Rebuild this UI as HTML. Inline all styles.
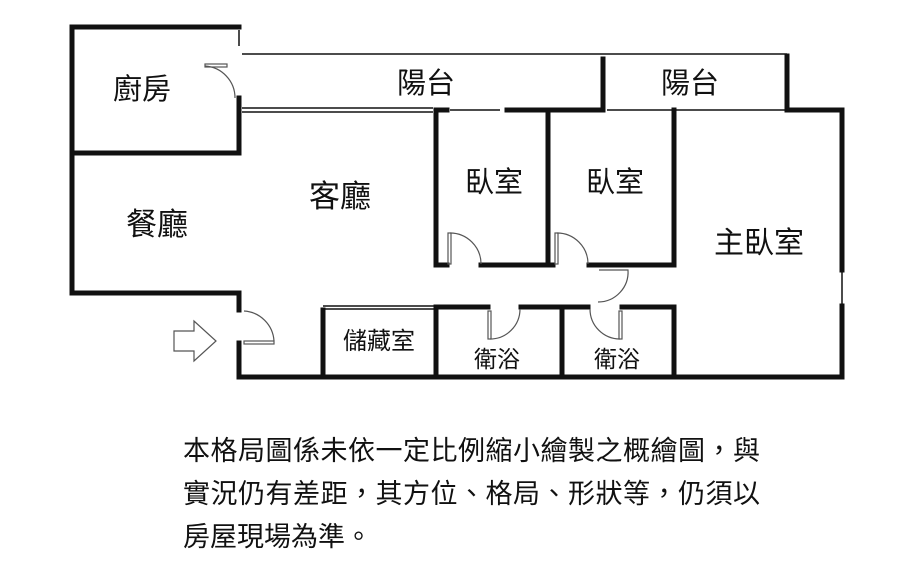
<!DOCTYPE html>
<html><head><meta charset="utf-8"><style>
html,body{margin:0;padding:0;background:#fff;}
svg{display:block}
.t{font-family:"Liberation Sans","Noto Sans CJK TC",sans-serif;fill:#111;}
</style></head><body>
<svg width="900" height="579" viewBox="0 0 900 579" xmlns="http://www.w3.org/2000/svg">
<g stroke="#111" stroke-width="5" fill="none" stroke-linecap="square">
<polyline points="239,27 72,27 72,293 239,293 239,310"/>
<line x1="72" y1="153" x2="239" y2="153"/>
<line x1="239" y1="98" x2="239" y2="153"/>
<polyline points="239,343 239,377 842,377 842,306"/>
<polyline points="842,270 842,110 787,110 787,56"/>
<line x1="603" y1="59" x2="603" y2="108"/>
<line x1="436" y1="110" x2="436" y2="265"/>
<line x1="436" y1="110" x2="447" y2="110"/>
<line x1="507" y1="110" x2="603" y2="110"/>
<line x1="548" y1="110" x2="548" y2="265"/>
<line x1="674" y1="110" x2="674" y2="265"/>
<line x1="436" y1="265" x2="447" y2="265"/>
<line x1="481" y1="265" x2="553" y2="265"/>
<line x1="589" y1="265" x2="674" y2="265"/>
<line x1="436" y1="307" x2="488" y2="307"/>
<line x1="521" y1="307" x2="560" y2="307"/>
<line x1="562" y1="307" x2="588" y2="307"/>
<line x1="622" y1="307" x2="674" y2="307"/>
<line x1="436" y1="307" x2="436" y2="377"/>
<line x1="562" y1="307" x2="562" y2="377"/>
<line x1="674" y1="307" x2="674" y2="377"/>
<line x1="323" y1="310" x2="323" y2="377"/>
</g>
<g stroke="#111" stroke-width="1.5" fill="none">
<line x1="242" y1="54" x2="787" y2="54"/>
<line x1="239" y1="30" x2="239" y2="46"/>
<line x1="242" y1="108" x2="433" y2="108"/><line x1="242" y1="112" x2="433" y2="112"/>
<line x1="323" y1="306" x2="436" y2="306"/><line x1="323" y1="309" x2="436" y2="309"/>
<line x1="450" y1="110" x2="500" y2="110"/>
<line x1="607" y1="110" x2="672" y2="110"/>
<line x1="676" y1="110" x2="787" y2="110"/>
<line x1="842" y1="272" x2="842" y2="304"/>
</g>
<g stroke="#555" stroke-width="1.2" fill="none">
<rect x="205" y="64" width="22" height="3"/><path d="M205,66 A32,32 0 0 1 235,98"/>
<rect x="244" y="341" width="30" height="3"/><path d="M244,311 A32,32 0 0 1 274,341"/>
<rect x="448" y="233" width="3" height="31"/><path d="M450,233 A31,31 0 0 1 481,264"/>
<rect x="555" y="233" width="3" height="31"/><path d="M557,233 A31,31 0 0 1 588,264"/>
<path d="M599,270 L628,270 A30,30 0 0 1 598,302"/>
<rect x="488" y="311" width="3" height="28"/><path d="M490,339 A30,30 0 0 0 520,309"/>
<rect x="619" y="311" width="3" height="28"/><path d="M620,339 A30,30 0 0 1 590,309"/>
<path d="M174,331 L194,331 L194,321 L216,341 L194,361 L194,351 L174,351 Z"/>
</g>
<g class="t" text-anchor="middle">
<text x="142" y="99" font-size="29">廚房</text>
<text x="426" y="93" font-size="29">陽台</text>
<text x="690" y="93" font-size="29">陽台</text>
<text x="340" y="207" font-size="31">客廳</text>
<text x="157" y="235" font-size="31">餐廳</text>
<text x="494" y="192" font-size="29">臥室</text>
<text x="615" y="192" font-size="29">臥室</text>
<text x="759" y="253" font-size="30">主臥室</text>
<text x="379" y="349" font-size="24">儲藏室</text>
<text x="497" y="367" font-size="23">衛浴</text>
<text x="617" y="367" font-size="23">衛浴</text>
</g>
<g class="t" font-size="27">
<text x="183" y="460" textLength="577">本格局圖係未依一定比例縮小繪製之概繪圖，與</text>
<text x="183" y="503" textLength="577">實況仍有差距，其方位、格局、形狀等，仍須以</text>
<text x="183" y="546">房屋現場為準。</text>
</g>
</svg>
</body></html>
